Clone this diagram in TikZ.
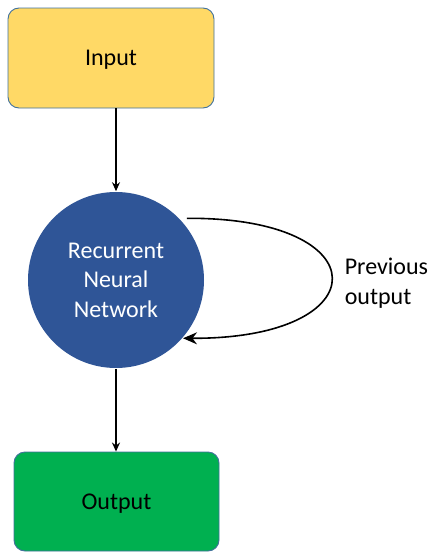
\documentclass[tikz,border=0pt]{standalone}
\usepackage{fontspec}
\setmainfont{Carlito}
\usetikzlibrary{arrows.meta}
\definecolor{boxyellow}{HTML}{FFD966}
\definecolor{boxgreen}{HTML}{00B050}
\definecolor{rnnblue}{HTML}{2F5597}
\definecolor{edgeblue}{HTML}{41719C}
\begin{document}
\begin{tikzpicture}[x=1pt,y=-1pt,line width=1.6pt,
  stagebox/.style={draw=edgeblue,line width=.9pt,rounded corners=11pt,minimum width=206pt,minimum height=100pt,inner sep=0pt,text depth=0pt,font=\fontsize{24}{29}\selectfont},
  flow/.style={-{Stealth[length=9pt,width=8pt]}}]
\path[use as bounding box] (0,0) rectangle (431,552);
\node[stagebox,fill=boxyellow] (inp) at (111,58) {Input};
\node[circle,fill=rnnblue,minimum size=176pt,inner sep=0pt,align=center,text=white,font=\fontsize{24}{29.5}\selectfont] (rnn) at (116,280) {Recurrent\\Neural\\Network};
\node[stagebox,fill=boxgreen,minimum width=205pt,minimum height=99pt] (out) at (116.5,501.5) {Output};
\node[anchor=west,align=left,inner sep=0pt,font=\fontsize{24}{29.5}\selectfont] (prev) at (344,283) {Previous\\output};
\draw[flow] (rnn.north |- inp.south) -- (rnn.north);
\draw[flow] (rnn.south) -- (rnn.south |- out.north);
% loop back into the network
\draw[-{Stealth[length=14pt,width=12pt]}] ([xshift=7pt]rnn.44) .. controls (380,217) and (380,339) .. (rnn.-41);
\end{tikzpicture}
\end{document}
